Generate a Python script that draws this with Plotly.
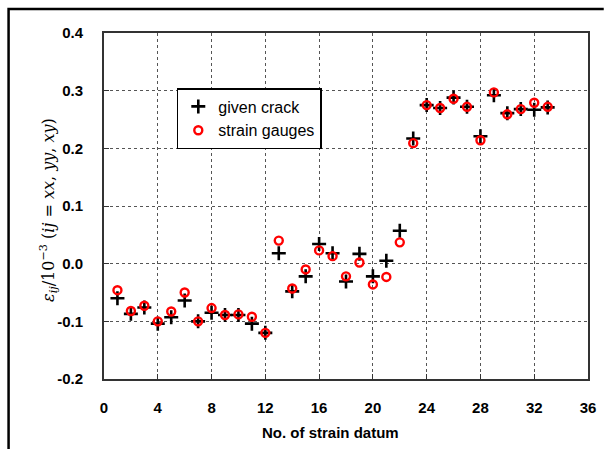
import plotly.graph_objects as go

datum = list(range(1, 34))
given_crack = [-0.060, -0.087, -0.076, -0.104, -0.093, -0.064, -0.100, -0.085, -0.089, -0.089, -0.104, -0.120,
               0.018, -0.048, -0.022, 0.034, 0.018, -0.031, 0.017, -0.022, 0.005, 0.057,
               0.217, 0.275, 0.270, 0.288, 0.272, 0.221, 0.292, 0.261, 0.268, 0.267, 0.271]
strain_gauges = [-0.046, -0.082, -0.073, -0.100, -0.083, -0.050, -0.100, -0.077, -0.089, -0.088, -0.092, -0.120,
                 0.040, -0.043, -0.010, 0.023, 0.013, -0.022, 0.002, -0.036, -0.023, 0.037,
                 0.209, 0.275, 0.270, 0.286, 0.272, 0.214, 0.297, 0.259, 0.268, 0.279, 0.272]
x_ticks = [0, 4, 8, 12, 16, 20, 24, 28, 32, 36]
y_ticks = [-0.2, -0.1, 0.0, 0.1, 0.2, 0.3, 0.4]

W, H = 608, 449
L, R, T, B = 104, 12, 33, 70
pw, ph = W - L - R, H - T - B

def px_x(p):
    return (p - L) / pw

def px_y(p):
    return (H - B - p) / ph

fig = go.Figure()
fig.add_trace(go.Scatter(
    x=datum, y=given_crack, mode="markers", name="given crack",
    marker=dict(symbol="cross-thin", size=10, color="black",
                line=dict(color="black", width=2.6)),
))
fig.add_trace(go.Scatter(
    x=datum, y=strain_gauges, mode="markers", name="strain gauges",
    marker=dict(symbol="circle-open", size=8, color="#ff0000",
                line=dict(color="#ff0000", width=2.4)),
))

tickfont = dict(family="Liberation Sans", size=15, color="black", weight="bold")
axis_common = dict(
    showline=True, linecolor="#333333", linewidth=2, mirror=True,
    showgrid=True, gridcolor="#555555", gridwidth=1, griddash="dot",
    ticks="inside", ticklen=5, tickcolor="#333333", tickwidth=1,
    zeroline=False, tickfont=tickfont,
)
fig.update_xaxes(range=[0, 36], tickvals=x_ticks, ticktext=[str(v) for v in x_ticks],
                 ticklabelstandoff=14, **axis_common)
fig.update_yaxes(range=[-0.2, 0.4], tickvals=y_ticks, ticktext=[f"{v:.1f}" for v in y_ticks],
                 ticklabelstandoff=16, **axis_common)

fig.update_layout(
    width=W, height=H,
    margin=dict(l=L, r=R, t=T, b=B),
    paper_bgcolor="white", plot_bgcolor="white",
    showlegend=True,
    legend=dict(
        x=px_x(178), y=px_y(88), xanchor="left", yanchor="top",
        bgcolor="white", bordercolor="black", borderwidth=1.5,
        font=dict(family="Liberation Sans", size=16, color="black"),
        tracegroupgap=0,
    ),
    annotations=[
        dict(text="No. of strain datum", xref="paper", yref="paper",
             x=px_x(334), y=px_y(432), xanchor="center", yanchor="middle",
             showarrow=False,
             font=dict(family="Liberation Sans", size=15, color="black", weight="bold")),
        dict(text="<i>ε</i><sub><i>ij</i></sub>/10<sup>−3</sup> (<i>ij</i> = <i>xx</i>, <i>yy</i>, <i>xy</i>)",
             xref="paper", yref="paper", x=px_x(47), y=px_y(210),
             xanchor="center", yanchor="middle", textangle=-90, showarrow=False,
             font=dict(family="DejaVu Serif", size=16, color="black")),
    ],
    shapes=[
        dict(type="path", xref="paper", yref="paper",
             path=f"M {px_x(7)} {px_y(452)} L {px_x(7)} {px_y(9)} L {px_x(612)} {px_y(9)}",
             line=dict(color="black", width=2.5)),
    ],
)

fig.write_html("out.html")
